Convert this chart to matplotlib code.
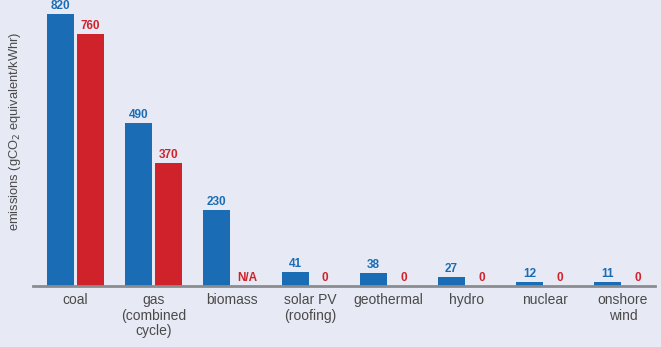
import matplotlib.pyplot as plt
import numpy as np

# Colors
BG = '#e7e9f4'
BLUE = '#1a6db5'
RED = '#d0222a'
GREY = '#8a8c90'
TEXT = '#4a4a4a'

categories = ['coal', 'gas\n(combined\ncycle)', 'biomass', 'solar PV\n(roofing)',
              'geothermal', 'hydro', 'nuclear', 'onshore\nwind']
blue_vals = [820, 490, 230, 41, 38, 27, 12, 11]
red_vals = [760, 370, None, 0, 0, 0, 0, 0]
red_labels = ['760', '370', 'N/A', '0', '0', '0', '0', '0']

plt.rcParams['font.family'] = ['Liberation Sans', 'DejaVu Sans']

fig = plt.figure(figsize=(6.61, 3.47), dpi=100, facecolor=BG)
ax = fig.add_axes([33 / 661, 61 / 347, 622 / 661, 286 / 347])
ax.set_facecolor(BG)

x = np.arange(len(categories))
w = 0.345
off = 0.192

ax.bar(x - off, blue_vals, width=w, color=BLUE)
red_plot = [v if v is not None else 0 for v in red_vals]
ax.bar(x + off, red_plot, width=w, color=RED)

for i in range(len(categories)):
    ax.text(x[i] - off, blue_vals[i] + 6, str(blue_vals[i]), ha='center', va='bottom',
            color=BLUE, fontsize=8.5, fontweight='bold')
    ax.text(x[i] + off, red_plot[i] + 6, red_labels[i], ha='center', va='bottom',
            color=RED, fontsize=8.5, fontweight='bold')

ax.set_xlim(-0.543, 7.41)
ax.set_ylim(0, 862)

for s in ['top', 'right', 'left']:
    ax.spines[s].set_visible(False)
ax.spines['bottom'].set_color(GREY)
ax.spines['bottom'].set_linewidth(2)

ax.set_yticks([])
ax.set_xticks(x)
ax.set_xticklabels(categories, color=TEXT, fontsize=10, linespacing=1.15)
ax.tick_params(axis='x', length=0, pad=5)

fig.text(15 / 661, 1 - 131 / 347, 'emissions (gCO$_2$ equivalent/kWhr)', rotation=90,
         ha='center', va='center', color=TEXT, fontsize=9.3)

fig.savefig('out.png', dpi=100, facecolor=BG)
